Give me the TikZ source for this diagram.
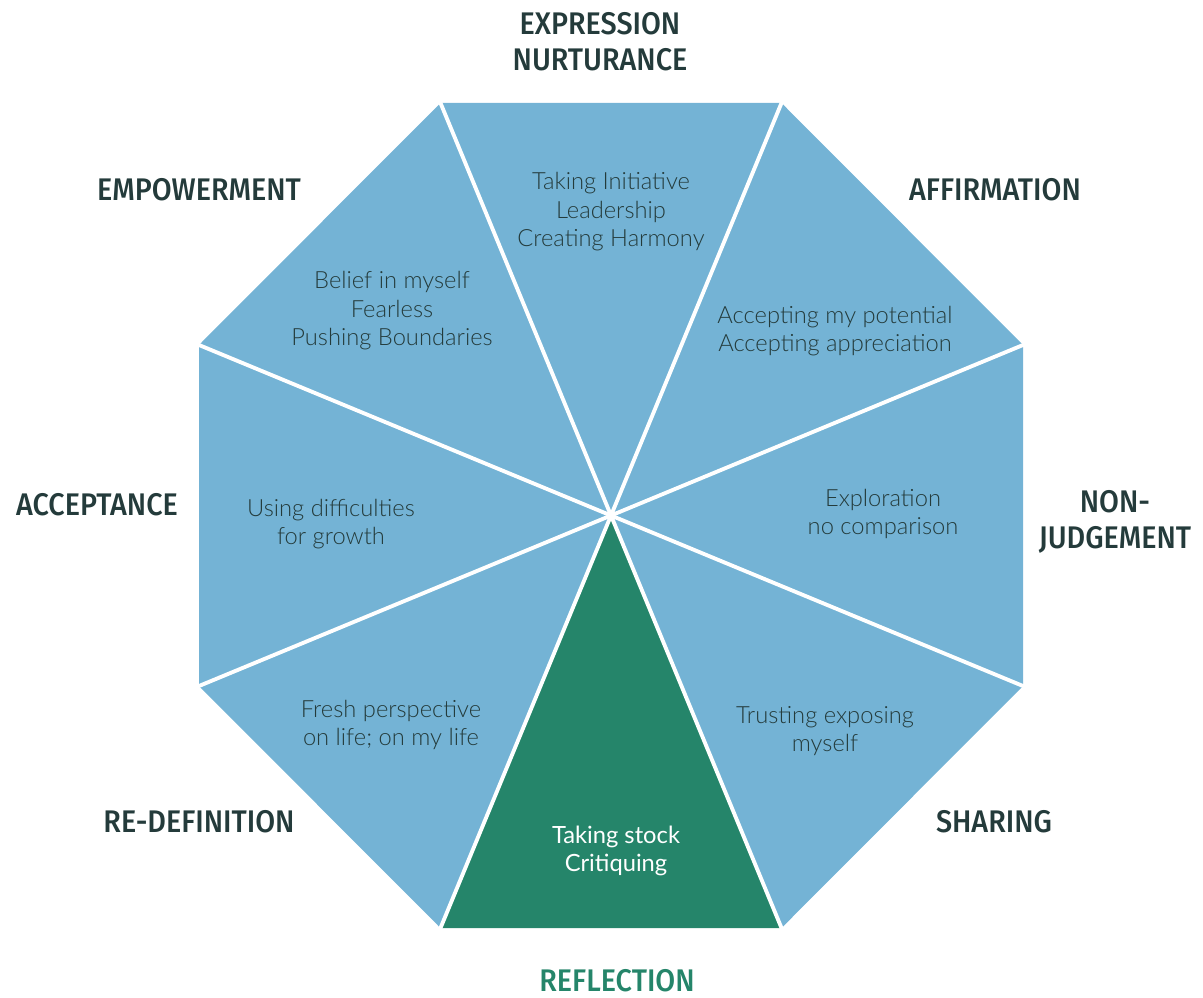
\documentclass[tikz,border=0pt]{standalone}
\usepackage{fontspec}
\usepackage{tikz}
\usetikzlibrary{positioning}
\newfontfamily\headfont[FakeStretch=0.92, BoldFont=* Medium]{Fira Sans}
\newfontfamily\bodyfont{Lato}[UprightFont=* Light]
\newfontfamily\bodyfontreg{Lato}
\definecolor{segblue}{HTML}{74B3D5}
\definecolor{seggreen}{HTML}{25856A}
\definecolor{inkdark}{HTML}{243B3B}

\begin{document}
\begin{tikzpicture}[
    x=0.02cm, y=-0.02cm,
    seg/.style={fill=segblue},
    spoke/.style={draw=white, line width=2.2pt, line cap=round},
    inner/.style={align=center, text=inkdark, font=\bodyfont\fontsize{13.5}{16.2}\selectfont},
    head/.style={align=center, inner sep=1pt, text=inkdark, font=\headfont\bfseries\fontsize{17.8}{20.4}\selectfont}
]
    \useasboundingbox (0,0) rectangle (1203,997);
    % octagon corners, clockwise from top left
    \coordinate (c) at (611,515.5);
    \coordinate (v1) at (440.5,103);
    \coordinate (v2) at (781.5,103);
    \coordinate (v3) at (1023,345);
    \coordinate (v4) at (1023,686);
    \coordinate (v5) at (781.5,928);
    \coordinate (v6) at (440.5,928);
    \coordinate (v7) at (199,686);
    \coordinate (v8) at (199,345);

    % segments
    \foreach \a/\b in {v1/v2, v2/v3, v3/v4, v4/v5, v6/v7, v7/v8, v8/v1}
        \fill[seg] (c) -- (\a) -- (\b) -- cycle;
    \fill[seggreen] (c) -- (v5) -- (v6) -- cycle;
    \foreach \i in {1,...,8}
        \draw[spoke] (c) -- (v\i);

    % texts inside
    \node[inner] (tnurt) at (611,212) {Taking Initiative\\Leadership\\Creating Harmony};
    \node[inner] (taffi) at (835,331) {Accepting my potential\\Accepting appreciation};
    \node[inner] (tnonj) at (883,514) {Exploration\\no comparison};
    \node[inner] (tshar) at (825,731) {Trusting exposing\\myself};
    \node[inner, text=white, font=\bodyfontreg\fontsize{13.5}{16.2}\selectfont] (trefl) at (616,851) {Taking stock\\Critiquing};
    \node[inner] (tredef) at (391,725) {Fresh perspective\\on life; on my life};
    \node[inner] (taccept) at (331,524) {Using difficulties\\for growth};
    \node[inner] (tempow) at (392,311) {Belief in myself\\Fearless\\Pushing Boundaries};

    % names round the outside
    \node[head] (nurt) at (600,42) {EXPRESSION\\NURTURANCE};
    \node[head] (affi) at (995,190) {AFFIRMATION};
    \node[head] (nonj) at (1115,522) {NON-\\JUDGEMENT};
    \node[head] (shar) at (994,822) {SHARING};
    \node[head, text=seggreen] (refl) at (617,981) {REFLECTION};
    \node[head] (redef) at (199,822) {RE-DEFINITION};
    \node[head] (accept) at (97,505) {ACCEPTANCE};
    \node[head] (empow) at (199,190) {EMPOWERMENT};
\end{tikzpicture}
\end{document}
